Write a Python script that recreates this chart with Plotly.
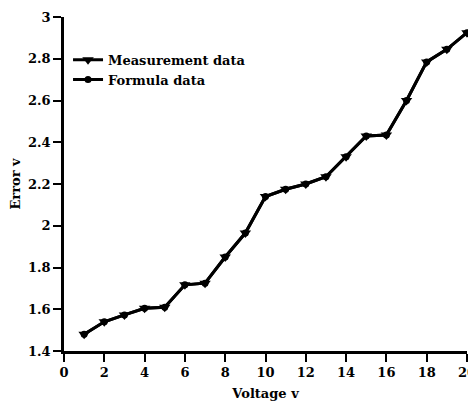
import plotly.graph_objects as go

voltage = list(range(1, 21))
measurement = [1.48, 1.54, 1.573, 1.605, 1.61, 1.717, 1.725, 1.85, 1.965, 2.14,
               2.175, 2.20, 2.235, 2.33, 2.43, 2.435, 2.60, 2.785, 2.845, 2.925]
formula = [1.48, 1.54, 1.573, 1.605, 1.61, 1.717, 1.725, 1.85, 1.965, 2.14,
           2.175, 2.20, 2.235, 2.33, 2.43, 2.435, 2.60, 2.785, 2.845, 2.925]
x_ticks = [0, 2, 4, 6, 8, 10, 12, 14, 16, 18, 20]
y_ticks = [1.4, 1.6, 1.8, 2, 2.2, 2.4, 2.6, 2.8, 3]

font_family = "DejaVu Serif"

fig = go.Figure()
fig.add_trace(go.Scatter(
    x=voltage, y=formula, mode="lines+markers", name="<b>Formula data</b>",
    line=dict(color="black", width=3),
    marker=dict(symbol="circle", size=7, color="black"),
    cliponaxis=False,
))
fig.add_trace(go.Scatter(
    x=voltage, y=measurement, mode="lines+markers", name="<b>Measurement data</b>",
    line=dict(color="black", width=3),
    marker=dict(symbol="triangle-down", size=10, color="black"),
    cliponaxis=False,
))

axis_common = dict(
    showline=True, linecolor="black", linewidth=2.5,
    ticks="outside", ticklen=8, tickwidth=2, tickcolor="black",
    showgrid=False, zeroline=False, mirror=False, automargin=False,
    ticklabeloverflow="allow",
    tickfont=dict(family=font_family, size=13, color="black"),
)

fig.update_layout(
    width=468, height=393,
    margin=dict(l=56, r=9, t=9, b=50),
    paper_bgcolor="white", plot_bgcolor="white",
    font=dict(family=font_family, color="black"),
    xaxis=dict(range=[0, 20], tickvals=x_ticks,
               ticktext=[f"<b>{v}</b>" for v in x_ticks],
               title=dict(text="<b>Voltage v</b>", font=dict(family=font_family, size=13), standoff=18),
               **axis_common),
    yaxis=dict(range=[1.4, 3], tickvals=y_ticks,
               ticktext=[f"<b>{v:g}</b>" for v in y_ticks],
               title=dict(text="<b>Error v</b>", font=dict(family=font_family, size=13), standoff=5),
               **axis_common),
    legend=dict(x=0.01, y=0.917, xanchor="left", yanchor="top",
                traceorder="reversed", bgcolor="rgba(0,0,0,0)",
                font=dict(family=font_family, size=13, color="black"),
                itemwidth=30, tracegroupgap=0),
    showlegend=True,
)

fig.write_html("out.html")
